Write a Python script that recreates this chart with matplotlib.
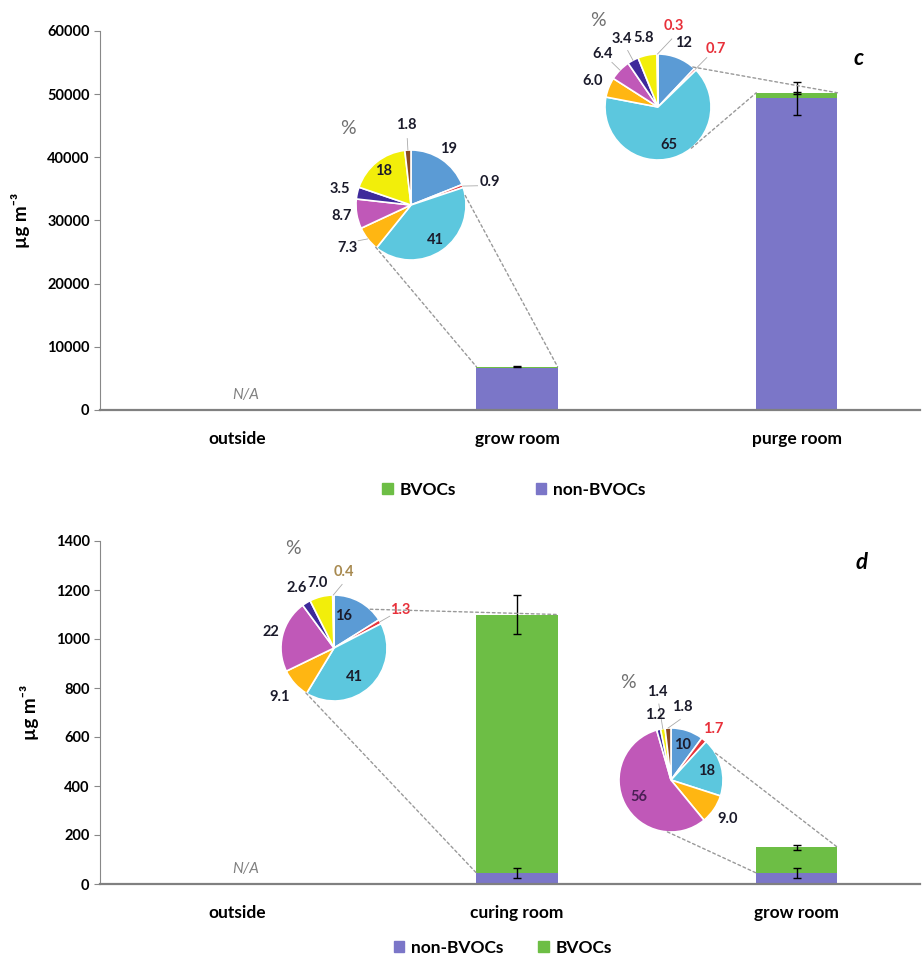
import numpy as np
import matplotlib.pyplot as plt
from matplotlib.patches import ConnectionPatch, Patch

plt.rcParams['font.family'] = ['Lato', 'DejaVu Sans']
plt.rcParams['font.weight'] = 'bold'

W, H = 923, 959

# ---------- data ----------
# panel c (concentrations, ug m-3)
c_sites = ["outside", "grow room", "purge room"]
c_non_bvoc = [0, 6600, 49350]
c_bvoc = [0, 250, 870]
c_non_err = [0, 0, 2600]
c_bvoc_err = [0, 120, 150]

# panel d
d_sites = ["outside", "curing room", "grow room"]
d_non_bvoc = [0, 45, 45]
d_bvoc = [0, 1055, 105]
d_non_err = [0, 22, 22]
d_bvoc_err = [0, 80, 10]

# BVOC composition (%), clockwise from 12 o'clock
c_grow_pct = [19, 0.9, 41, 7.3, 8.7, 3.5, 18, 1.8]
c_purge_pct = [12, 0.7, 65, 6.0, 6.4, 3.4, 5.8, 0.3]
d_curing_pct = [16, 1.3, 41, 9.1, 22, 2.6, 7.0, 0.4]
d_grow_pct = [10, 1.7, 18, 9.0, 56, 1.2, 1.4, 1.8]

# ---------- styles ----------
PURPLE = "#7B76C8"
GREEN = "#6DBE45"
pie_colors = ["#5B9BD5", "#E8363B", "#5CC7DE", "#FFB612",
              "#C058B8", "#3E2A9B", "#F2EE0A", "#8B4A1E"]
DARK = "#1b1b2b"
RED = "#E8303A"


def fmt(v):
    return "%d" % v if v >= 10 else "%.1f" % v


def draw_bars(ax, sites, non, bvoc, non_err, bvoc_err, ymax, step):
    x = np.arange(len(sites))
    w = 0.29
    ax.bar(x, non, w, color=PURPLE, zorder=2)
    ax.bar(x, bvoc, w, bottom=non, color=GREEN, zorder=2)
    top = np.array(non) + np.array(bvoc)
    for i in x:
        if non[i] > 0 and non_err[i] > 0:
            ax.errorbar(i, non[i], yerr=non_err[i], color="black", lw=1,
                        capsize=3, zorder=3)
        if top[i] > 0 and bvoc_err[i] > 0:
            ax.errorbar(i, top[i], yerr=bvoc_err[i], color="black", lw=1,
                        capsize=3, zorder=3)
    ax.set_xlim(-0.49, 2.44)
    ax.set_ylim(0, ymax)
    ax.set_yticks(np.arange(0, ymax + 1, step))
    ax.set_xticks(x)
    ax.set_xticklabels(sites, fontsize=12.5, fontweight="bold")
    ax.tick_params(axis="x", length=0, pad=15)
    ax.tick_params(axis="y", labelsize=10.5, length=4, color="#888888")
    for s in ("top", "right"):
        ax.spines[s].set_visible(False)
    ax.spines["left"].set_color("#888888")
    ax.spines["bottom"].set_color("#808080")
    ax.spines["bottom"].set_linewidth(1.6)
    ax.set_ylabel("µg m⁻³", fontsize=13.5, fontweight="bold", labelpad=12)
    ax.text(0.03, ymax * 0.022, "N/A", color="#808080", fontsize=11,
            style="italic", fontweight="normal", ha="center", va="bottom")
    return w


def draw_pie(cx, cy, r, pct, factors, shifts, colors_txt, pct_pos):
    pax = fig.add_axes([(cx - r) / W, 1 - (cy + r) / H, 2 * r / W, 2 * r / H])
    pax.pie(pct, colors=pie_colors, startangle=90, counterclock=False,
            wedgeprops=dict(edgecolor="white", linewidth=1.2))
    pax.set_xlim(-1, 1)
    pax.set_ylim(-1, 1)
    pax.set_aspect("auto")
    frac = np.array(pct) / np.sum(pct)
    cum = np.concatenate([[0], np.cumsum(frac)])
    for i, v in enumerate(pct):
        mid = 90 - 360 * (cum[i] + cum[i + 1]) / 2 + shifts[i]
        a = np.deg2rad(mid)
        f = factors[i]
        if f >= 1.4:
            am = np.deg2rad(90 - 360 * (cum[i] + cum[i + 1]) / 2)
            pax.plot([np.cos(am), (f - 0.24) * np.cos(a)],
                     [np.sin(am), (f - 0.24) * np.sin(a)],
                     color="#aaaaaa", lw=0.6, clip_on=False)
        pax.text(f * np.cos(a), f * np.sin(a), fmt(v), ha="center",
                 va="center", fontsize=10.5, fontweight="bold",
                 color=colors_txt[i])
    pax.text(pct_pos[0], pct_pos[1], "%", fontsize=14, fontweight="normal",
             color="#707070", ha="center", va="center")
    return pax


def connect(pax, ang, ax, xy):
    a = np.deg2rad(ang)
    con = ConnectionPatch(xyA=(np.cos(a), np.sin(a)), coordsA=pax.transData,
                          xyB=xy, coordsB=ax.transData,
                          linestyle=(0, (2, 2)), color="#999999", lw=1)
    fig.add_artist(con)


fig = plt.figure(figsize=(W / 100, H / 100), dpi=100)

# ---------- panel c ----------
ax1 = fig.add_axes([100 / W, 1 - 410 / H, 820 / W, 379 / H])
w = draw_bars(ax1, c_sites, c_non_bvoc, c_bvoc, c_non_err, c_bvoc_err,
              60000, 10000)
ax1.text(2.22, 57300, "c", fontsize=16, style="italic", fontweight="bold",
         ha="center", va="top")

p1 = draw_pie(411, 205, 55, c_grow_pct,
              [1.22, 1.5, 0.78, 1.4, 1.28, 1.32, 0.8, 1.45],
              [0, -4, 0, -4, 0, 0, 0, 0],
              [DARK] * 8, (-1.15, 1.4))
p2 = draw_pie(658, 107, 53, c_purge_pct,
              [1.3, 1.55, 0.74, 1.32, 1.45, 1.45, 1.32, 1.55],
              [0, 0, 0, 0, 0, 0, 0, -12],
              [DARK, RED, DARK, DARK, DARK, DARK, DARK, RED], (-1.13, 1.64))

top_c = np.array(c_non_bvoc) + np.array(c_bvoc)
connect(p1, -130, ax1, (1 - w / 2, top_c[1]))
connect(p1, 10, ax1, (1 + w / 2, top_c[1]))
connect(p2, 49, ax1, (2 + w / 2, top_c[2]))
connect(p2, -51, ax1, (2 - w / 2, top_c[2]))

fig.legend(handles=[Patch(color=GREEN, label="BVOCs"),
                    Patch(color=PURPLE, label="non-BVOCs")],
           loc="center", bbox_to_anchor=(514 / W, 1 - 490 / H), ncol=2,
           frameon=False, fontsize=12.5, handlelength=0.6, handleheight=0.6,
           handletextpad=0.4, columnspacing=4.6)

# ---------- panel d ----------
ax2 = fig.add_axes([100 / W, 1 - 884 / H, 820 / W, 343 / H])
draw_bars(ax2, d_sites, d_non_bvoc, d_bvoc, d_non_err, d_bvoc_err,
          1400, 200)
ax2.text(2.23, 1355, "d", fontsize=16, style="italic", fontweight="bold",
         ha="center", va="top")

p3 = draw_pie(334, 648, 53, d_curing_pct,
              [0.62, 1.45, 0.68, 1.38, 1.22, 1.33, 1.26, 1.45],
              [13, 0, -8, 0, 0, 0, 0, -8],
              [DARK, RED, DARK, DARK, DARK, DARK, DARK, "#A88A50"],
              (-0.77, 1.87))
p4 = draw_pie(671, 780, 52, d_grow_pct,
              [0.7, 1.28, 0.7, 1.32, 0.7, 1.28, 1.72, 1.42],
              [0, 0, 0, 0, 0, 0, 0, -12],
              [DARK, RED, DARK, DARK, "#4a1f55", DARK, DARK, DARK],
              (-0.83, 1.88))

top_d = np.array(d_non_bvoc) + np.array(d_bvoc)
connect(p3, 47, ax2, (1 + w / 2, top_d[1]))
connect(p3, -122, ax2, (1 - w / 2, d_non_bvoc[1]))
connect(p4, 31, ax2, (2 + w / 2, top_d[2]))
connect(p4, -94, ax2, (2 - w / 2, d_non_bvoc[2]))

fig.legend(handles=[Patch(color=PURPLE, label="non-BVOCs"),
                    Patch(color=GREEN, label="BVOCs")],
           loc="center", bbox_to_anchor=(503 / W, 1 - 948 / H), ncol=2,
           frameon=False, fontsize=12.5, handlelength=0.6, handleheight=0.6,
           handletextpad=0.4, columnspacing=2.0)

fig.savefig("out.png", dpi=100)
